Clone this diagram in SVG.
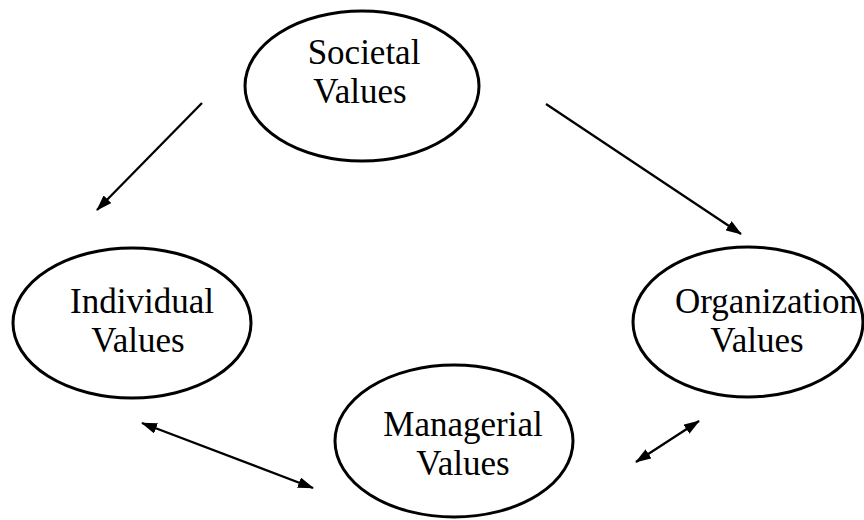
<svg xmlns="http://www.w3.org/2000/svg" width="864" height="520" viewBox="0 0 864 520">
  <style>
    .node ellipse { fill: #ffffff; stroke: #000000; stroke-width: 3; }
    .node text { font-family: "Liberation Serif", "Times New Roman", serif; font-size: 35px; fill: #000000; text-anchor: middle; }
    .edge { stroke: #000000; stroke-width: 2.3; fill: none; }
  </style>
  <defs>
    <marker id="head" viewBox="0 0 16 11" refX="15" refY="5.5" markerWidth="16" markerHeight="11" markerUnits="userSpaceOnUse" orient="auto-start-reverse">
      <path d="M0,0 L16,5.5 L0,11 z" fill="#000000"/>
    </marker>
  </defs>
  <rect width="864" height="520" fill="#ffffff"/>

  <g id="societal" class="node">
    <ellipse cx="362" cy="86" rx="117" ry="75"/>
    <text x="364" y="64">Societal</text>
    <text x="360" y="103">Values</text>
  </g>

  <g id="individual" class="node">
    <ellipse cx="132" cy="323" rx="119" ry="75"/>
    <text x="142" y="313">Individual</text>
    <text x="138" y="352">Values</text>
  </g>

  <g id="organization" class="node">
    <ellipse cx="748" cy="322" rx="115" ry="75"/>
    <text x="766" y="313">Organization</text>
    <text x="757" y="352">Values</text>
  </g>

  <g id="managerial" class="node">
    <ellipse cx="454" cy="441" rx="119" ry="76"/>
    <text x="463" y="436">Managerial</text>
    <text x="463" y="475">Values</text>
  </g>

  <g id="connectors">
    <line class="edge" x1="202" y1="103" x2="97" y2="210" marker-end="url(#head)"/>
    <line class="edge" x1="546" y1="104" x2="741" y2="234" marker-end="url(#head)"/>
    <line class="edge" x1="142" y1="423" x2="313" y2="488" marker-start="url(#head)" marker-end="url(#head)"/>
    <line class="edge" x1="636" y1="462" x2="699" y2="421" marker-start="url(#head)" marker-end="url(#head)"/>
  </g>
</svg>
